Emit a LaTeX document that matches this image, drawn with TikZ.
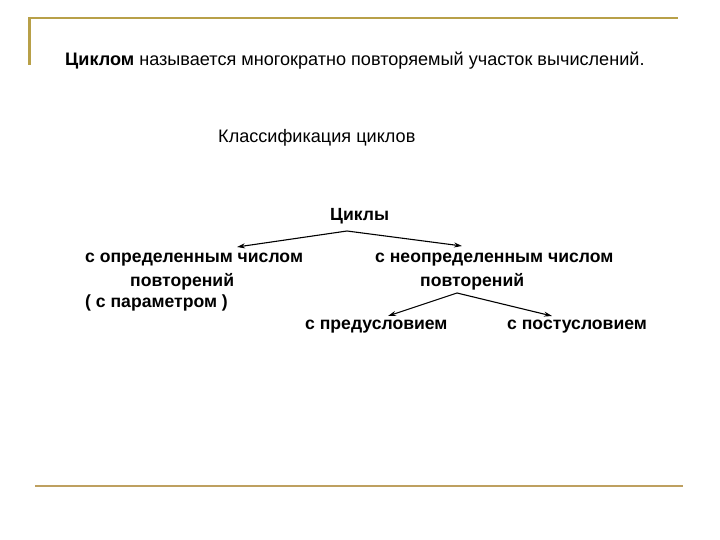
\documentclass[tikz,border=0pt]{standalone}
\usepackage{fontspec}
\setmainfont{Liberation Sans}
\usetikzlibrary{arrows.meta}
\definecolor{goldline}{RGB}{184,160,72}
\definecolor{tanline}{RGB}{190,160,96}
\tikzset{
  txt/.style={inner sep=0pt, anchor=west, font=\fontsize{18.1}{21}\selectfont},
  btxt/.style={inner sep=0pt, anchor=west, font=\fontsize{17.6}{21}\selectfont\bfseries},
  arr/.style={-{Stealth[length=8pt,width=5pt]}, line width=1.1pt}
}
\begin{document}
\begin{tikzpicture}[x=1pt,y=-1pt]
\useasboundingbox (0,0) rectangle (720,540);
\draw[goldline, line width=2.2pt] (29.5,65) -- (29.5,18) -- (678,18);
\draw[tanline, line width=2.2pt] (35,486) -- (683,486);
\node[txt] (def) at (65,61) {\textbf{Циклом} называется многократно повторяемый участок вычислений.};
\node[txt] (cls) at (218,138) {Классификация циклов};
\node[btxt] (cyc) at (330,216) {Циклы};
\node[btxt] (l1) at (85,260) {с определенным числом};
\node[btxt] (l2) at (130,282) {повторений};
\node[btxt] (l3) at (85,303) {( с параметром )};
\node[btxt] (r1) at (375,260) {с неопределенным числом};
\node[btxt] (r2) at (420,282) {повторений};
\node[btxt] (p1) at (305,327) {с предусловием};
\node[btxt] (p2) at (507,327) {с постусловием};
\coordinate (apex1) at (347,231);
\coordinate (tipL) at (237,247);
\coordinate (tipR) at (462,246);
\coordinate (apex2) at (457,293);
\coordinate (tipP1) at (388,316);
\coordinate (tipP2) at (552,316);
\draw[arr] (apex1) -- (tipL);
\draw[arr] (apex1) -- (tipR);
\draw[arr] (apex2) -- (tipP1);
\draw[arr] (apex2) -- (tipP2);
\end{tikzpicture}
\end{document}
